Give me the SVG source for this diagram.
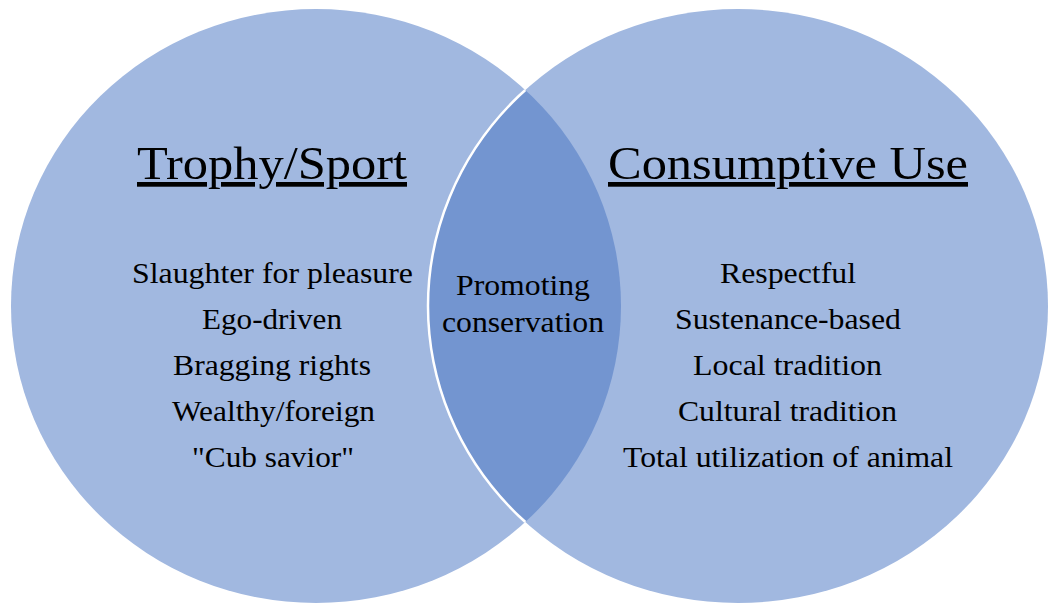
<svg xmlns="http://www.w3.org/2000/svg" width="1048" height="609" viewBox="0 0 1048 609">
  <style>
    .circle { fill: #A1B8E0; }
    .lens { fill: #7395D0; }
    .edge { fill: none; stroke: #FFFFFF; stroke-width: 2.5; }
    text { font-family: "Liberation Serif", "Times New Roman", serif; fill: #000000; text-anchor: middle; }
    .title { font-size: 47px; text-decoration: underline; }
    .item { font-size: 29px; }
  </style>
  <defs>
    <clipPath id="leftClip">
      <ellipse cx="316" cy="306" rx="305" ry="297"/>
    </clipPath>
  </defs>
  <rect width="1048" height="609" fill="#FFFFFF"/>
  <g id="trophy-sport">
    <ellipse class="circle" cx="316" cy="306" rx="305" ry="297"/>
  </g>
  <g id="consumptive-use">
    <ellipse class="circle" cx="738" cy="306" rx="310" ry="297"/>
  </g>
  <g id="overlap">
    <ellipse class="lens" cx="738" cy="306" rx="310" ry="297" clip-path="url(#leftClip)"/>
    <ellipse class="edge" cx="738" cy="306" rx="310" ry="297" clip-path="url(#leftClip)"/>
  </g>
  <g id="trophy-sport-text">
    <text class="title" x="272" y="179" textLength="270" lengthAdjust="spacingAndGlyphs">Trophy/Sport</text>
    <text class="item" x="272.5" y="283" textLength="281" lengthAdjust="spacingAndGlyphs">Slaughter for pleasure</text>
    <text class="item" x="272" y="329" textLength="140" lengthAdjust="spacingAndGlyphs">Ego-driven</text>
    <text class="item" x="272" y="375" textLength="198" lengthAdjust="spacingAndGlyphs">Bragging rights</text>
    <text class="item" x="273.5" y="421" textLength="203" lengthAdjust="spacingAndGlyphs">Wealthy/foreign</text>
    <text class="item" x="273" y="467" textLength="162" lengthAdjust="spacingAndGlyphs">"Cub savior"</text>
  </g>
  <g id="overlap-text">
    <text class="item" x="523" y="295" textLength="134" lengthAdjust="spacingAndGlyphs">Promoting</text>
    <text class="item" x="523" y="332" textLength="162" lengthAdjust="spacingAndGlyphs">conservation</text>
  </g>
  <g id="consumptive-use-text">
    <text class="title" x="788" y="179" textLength="360" lengthAdjust="spacingAndGlyphs">Consumptive Use</text>
    <text class="item" x="788" y="283" textLength="136" lengthAdjust="spacingAndGlyphs">Respectful</text>
    <text class="item" x="788" y="329" textLength="226" lengthAdjust="spacingAndGlyphs">Sustenance-based</text>
    <text class="item" x="787.5" y="375" textLength="189" lengthAdjust="spacingAndGlyphs">Local tradition</text>
    <text class="item" x="787.5" y="421" textLength="219" lengthAdjust="spacingAndGlyphs">Cultural tradition</text>
    <text class="item" x="788" y="467" textLength="330" lengthAdjust="spacingAndGlyphs">Total utilization of animal</text>
  </g>
</svg>
